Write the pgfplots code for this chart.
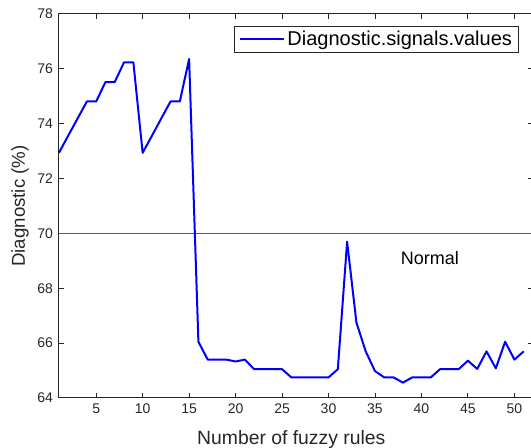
\documentclass[border=0pt]{standalone}
\usepackage{pgfplots}
\pgfplotsset{compat=1.18}
\usepackage{fontspec}
\setmainfont{Liberation Sans}

\definecolor{axisgray}{rgb}{0.15,0.15,0.15}
\definecolor{sigblue}{rgb}{0,0,1}
\definecolor{normgreen}{rgb}{0.13,0.53,0.13}

\pgfplotstableread{
rules diag
1  72.94
2  73.57
3  74.19
4  74.81
5  74.81
6  75.52
7  75.52
8  76.24
9  76.24
10 72.94
11 73.56
12 74.19
13 74.81
14 74.81
15 76.36
16 66.05
17 65.40
18 65.40
19 65.40
20 65.33
21 65.40
22 65.05
23 65.05
24 65.05
25 65.05
26 64.75
27 64.75
28 64.75
29 64.75
30 64.75
31 65.05
32 69.70
33 66.75
34 65.70
35 64.98
36 64.75
37 64.75
38 64.56
39 64.75
40 64.75
41 64.75
42 65.05
43 65.05
44 65.05
45 65.36
46 65.06
47 65.70
48 65.08
49 66.05
50 65.40
51 65.70
}\diagtable

\begin{document}
\begin{tikzpicture}
\begin{axis}[
  scale only axis,
  width=355.5pt, height=288pt,
  xmin=1, xmax=52, ymin=64, ymax=78,
  xtick={5,10,...,50},
  ytick={64,66,...,78},
  tick align=inside,
  major tick length=3.5pt,
  axis line style={axisgray, line width=0.75pt},
  every tick/.style={axisgray, line width=0.75pt},
  /pgf/number format/assume math mode=true,
  ticklabel style={font=\fontsize{10.5}{12}\selectfont, text=axisgray},
  xticklabel style={yshift=-1pt},
  yticklabel style={xshift=-1pt},
  xlabel={Number of fuzzy rules},
  ylabel={Diagnostic (\%)},
  xlabel style={at={(axis description cs:0.49,-0.1068)}, anchor=center,
    font=\fontsize{14.5}{17}\selectfont, text=axisgray},
  ylabel style={at={(axis description cs:-0.0823,0.5)}, anchor=center,
    font=\fontsize{14}{17}\selectfont, text=axisgray},
  legend style={at={(rel axis cs:0.9705,0.969)}, anchor=north east,
    draw=axisgray, line width=0.6pt, font=\fontsize{15}{17}\selectfont,
    inner xsep=3pt, inner ysep=1.5pt, row sep=0pt},
  legend cell align=left,
  legend image code/.code={\draw[#1, line width=1.5pt] (0pt,0pt) -- (33pt,0pt);},
]
% reference level for the normal state
\addplot[draw=normgreen, line width=0.9pt, forget plot]
  coordinates {(1,70) (52,70)};
\addplot[sigblue, line width=1.5pt, line join=round] table[x=rules, y=diag] {\diagtable};
\addlegendentry{Diagnostic.signals.values}
\node[font=\fontsize{13.5}{16}\selectfont, text=black] at (axis cs:40.9,69.1) {Normal};
\end{axis}
\pgfresetboundingbox
\path ([xshift=-44.25pt, yshift=-37.5pt]current axis.south west)
  rectangle ([xshift=-1.5pt, yshift=10.5pt]current axis.north east);
\end{tikzpicture}
\end{document}
